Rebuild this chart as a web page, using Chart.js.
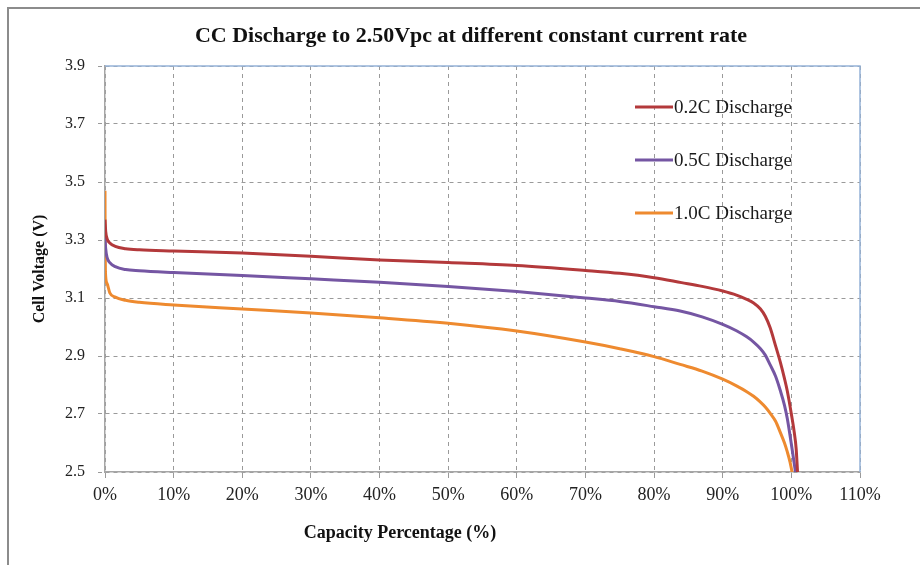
<!DOCTYPE html>
<html>
<head>
<meta charset="utf-8">
<script src="https://cdn.jsdelivr.net/npm/chart.js@4.4.1/dist/chart.umd.min.js"></script>
<style>
	body { margin: 0; background: #fff; }
	#wrap { position: relative; width: 920px; height: 565px; }
	#frame {
		position: absolute; left: 7px; top: 7px; right: 0; bottom: 0;
		border-top: 2px solid #8c8c8c; border-left: 2px solid #8c8c8c;
		pointer-events: none;
	}
</style>
</head>
<body>
<div id="wrap">
	<canvas id="chart" width="920" height="565"></canvas>
	<div id="frame"></div>
</div>
<script>
const chartTitle = "CC Discharge to 2.50Vpc at different constant current rate";
const xAxisTitle = "Capacity Percentage (%)";
const yAxisTitle = "Cell Voltage (V)";

const seriesNames = ["0.2C Discharge", "0.5C Discharge", "1.0C Discharge"];
const seriesColors = ["#b3393b", "#7556a3", "#ee8a2f"];

const xTickLabels = ["0%", "10%", "20%", "30%", "40%", "50%", "60%", "70%", "80%", "90%", "100%", "110%"];
const yTickLabels = ["2.5", "2.7", "2.9", "3.1", "3.3", "3.5", "3.7", "3.9"];

// capacity (%) / voltage (V) pairs
const cap02 = [0, 0.1, 0.3, 0.7, 1.5, 3, 5, 10, 20, 30, 40, 50, 60, 70, 75, 80, 84, 87, 90, 92, 93.5, 94.5, 95.5, 96.2, 96.9, 97.7, 98.4, 99, 99.4, 100, 100.4, 100.7, 100.9];
const volt02 = [3.37, 3.33, 3.305, 3.29, 3.278, 3.27, 3.266, 3.262, 3.255, 3.244, 3.231, 3.222, 3.212, 3.195, 3.185, 3.17, 3.153, 3.14, 3.124, 3.11, 3.095, 3.083, 3.062, 3.037, 2.998, 2.935, 2.878, 2.822, 2.78, 2.70, 2.64, 2.58, 2.5];

const cap05 = [0, 0.1, 0.3, 0.7, 1.5, 3, 5, 10, 20, 30, 40, 50, 60, 70, 75, 80, 83.8, 87, 90, 92, 93.5, 94.5, 95.5, 96.2, 96.9, 97.7, 98.4, 99, 99.4, 100.1, 100.6];
const volt05 = [3.31, 3.27, 3.24, 3.222, 3.208, 3.198, 3.194, 3.188, 3.178, 3.166, 3.154, 3.14, 3.122, 3.1, 3.088, 3.07, 3.055, 3.035, 3.009, 2.987, 2.966, 2.948, 2.925, 2.903, 2.87, 2.83, 2.78, 2.73, 2.685, 2.58, 2.5];

const cap10 = [0, 0.02, 0.06, 0.3, 0.7, 1.5, 3, 5, 10, 20, 30, 40, 50, 60, 70, 75, 80, 83.8, 87, 90, 92, 93.5, 94.5, 95.5, 96.2, 96.9, 97.7, 98.4, 99, 99.4, 99.8, 100.1];
const volt10 = [3.47, 3.3, 3.19, 3.15, 3.118, 3.103, 3.092, 3.085, 3.076, 3.062, 3.048, 3.032, 3.013, 2.986, 2.948, 2.925, 2.898, 2.871, 2.848, 2.82, 2.797, 2.777, 2.761, 2.741, 2.724, 2.703, 2.675, 2.636, 2.6, 2.57, 2.535, 2.5];

const serif = "'Liberation Serif', 'Times New Roman', serif";

function toPoints(xs, ys) {
	return xs.map((x, i) => ({ x: x, y: ys[i] }));
}

// title, x axis title, blue top/right border and the in-plot legend
const decorations = {
	id: "decorations",
	afterDraw(chart) {
		const { ctx, chartArea: a } = chart;
		ctx.save();
		ctx.fillStyle = "#111";
		ctx.textAlign = "center";
		ctx.textBaseline = "middle";
		ctx.font = "bold 22px " + serif;
		ctx.fillText(chartTitle, 471, 36);
		ctx.font = "bold 18px " + serif;
		ctx.fillText(xAxisTitle, 400, 533);

		ctx.strokeStyle = "#95b3d7";
		ctx.lineWidth = 1.5;
		ctx.beginPath();
		ctx.moveTo(a.left, a.top);
		ctx.lineTo(a.right, a.top);
		ctx.lineTo(a.right, a.bottom);
		ctx.stroke();

		ctx.textAlign = "left";
		ctx.font = "19px " + serif;
		seriesNames.forEach((name, i) => {
			const y = 107 + i * 53;
			ctx.strokeStyle = seriesColors[i];
			ctx.lineWidth = 3;
			ctx.beginPath();
			ctx.moveTo(635, y);
			ctx.lineTo(673, y);
			ctx.stroke();
			ctx.fillStyle = "#1a1a1a";
			ctx.fillText(name, 674, y + 1);
		});
		ctx.restore();
	},
};

const gridDash = [4, 4];

const ctx = document.getElementById("chart").getContext("2d");
new Chart(ctx, {
	type: "scatter",
	data: {
		datasets: [
			{ label: seriesNames[0], data: toPoints(cap02, volt02) },
			{ label: seriesNames[1], data: toPoints(cap05, volt05) },
			{ label: seriesNames[2], data: toPoints(cap10, volt10) },
		].map((d, i) => ({
			...d,
			showLine: true,
			borderColor: seriesColors[i],
			backgroundColor: seriesColors[i],
			borderWidth: 3,
			pointRadius: 0,
			cubicInterpolationMode: "monotone",
		})),
	},
	options: {
		responsive: false,
		animation: false,
		layout: { padding: { left: 0, top: 66, right: 60, bottom: 0 } },
		plugins: {
			legend: { display: false },
			title: { display: false },
			tooltip: { enabled: false },
		},
		scales: {
			x: {
				type: "linear",
				min: 0,
				max: 110,
				afterFit: (s) => { s.height = 93; },
				ticks: {
					stepSize: 10,
					padding: 6,
					color: "#222",
					font: { family: serif, size: 18 },
					callback: (v) => xTickLabels[Math.round(v / 10)],
					maxRotation: 0,
				},
				grid: {
					color: "#9a9a9a",
					lineWidth: 1,
					tickLength: 6,
					tickColor: "#9a9a9a",
					tickBorderDash: [],
				},
				border: { display: true, color: "#a6a6a6", width: 1.5, dash: gridDash },
			},
			y: {
				type: "linear",
				min: 2.5,
				max: 3.9,
				afterFit: (s) => { s.width = 105; },
				ticks: {
					stepSize: 0.2,
					padding: 13,
					color: "#222",
					font: { family: serif, size: 16 },
					callback: (v) => yTickLabels[Math.round((v - 2.5) / 0.2)],
				},
				grid: {
					color: "#9a9a9a",
					lineWidth: 1,
					tickLength: 7,
					tickColor: "#9a9a9a",
					tickBorderDash: gridDash,
				},
				border: { display: true, color: "#a6a6a6", width: 1.5, dash: gridDash },
				title: {
					display: true,
					text: yAxisTitle,
					color: "#111",
					font: { family: serif, size: 16, weight: "bold" },
					padding: { top: 30 },
				},
			},
		},
	},
	plugins: [decorations],
});
</script>
</body>
</html>
